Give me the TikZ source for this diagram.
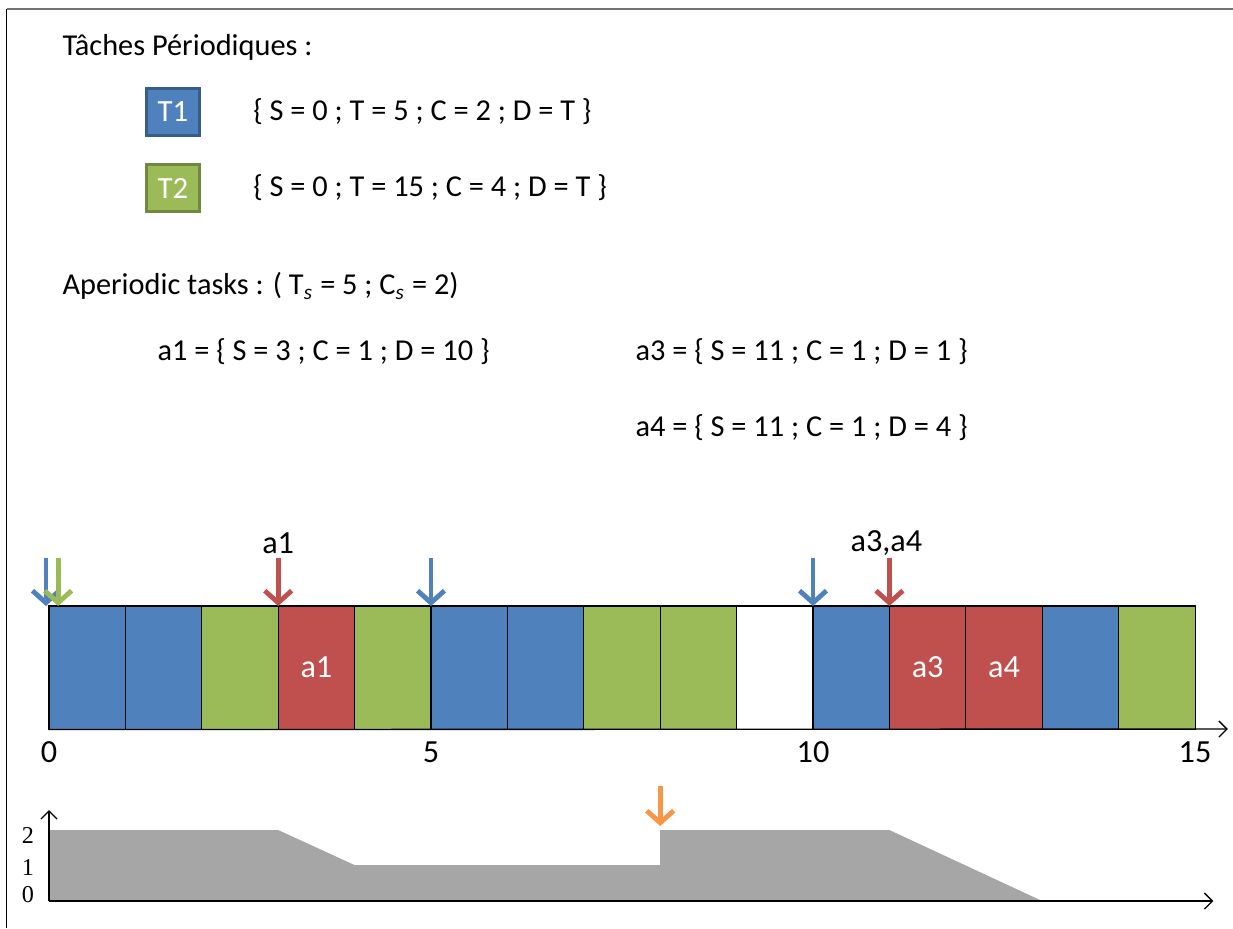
\documentclass[tikz,border=0pt]{standalone}
\usepackage{fontspec}
\setmainfont{Carlito}
\newfontfamily\numfont{Liberation Serif}
\usetikzlibrary{arrows.meta,positioning}

\definecolor{tblue}{HTML}{4F81BD}
\definecolor{tblueb}{HTML}{385D8A}
\definecolor{tgreen}{HTML}{9BBB59}
\definecolor{tgreenb}{HTML}{71893F}
\definecolor{tred}{HTML}{C0504D}
\definecolor{torange}{HTML}{F79646}
\definecolor{tgray}{HTML}{A6A6A6}

\tikzset{
  txt/.style={font=\fontsize{11.3}{13}\selectfont, anchor=west, inner sep=0pt},
  legendbox/.style={draw, line width=1.1pt, minimum width=0.69cm,
    minimum height=0.61cm, inner sep=0pt, text=white,
    font=\fontsize{11.5}{13}\selectfont},
  slot/.style={draw=black, line width=0.4pt, minimum width=1cm,
    minimum height=1.61cm, inner sep=0pt, text=white,
    font=\fontsize{12}{14}\selectfont},
  ticklab/.style={font=\fontsize{12}{14}\selectfont, inner sep=0pt},
  caplab/.style={font=\numfont\fontsize{9}{10}\selectfont, inner sep=0pt},
  release/.style={line width=1.8pt, -{Straight Barb[length=4.5pt,width=10pt]}},
  axis/.style={line width=0.5pt, -{Straight Barb[length=3pt,width=6pt]}},
}

\begin{document}
\begin{tikzpicture}
    \path[use as bounding box] (-0.641,-2.605) rectangle (15.497,9.542);

    % Frame
    \draw[black!55, line width=0.8pt] (-0.55,9.424) -- (15.497,9.424);
    \draw[black, line width=0.4pt] (-0.55,9.424) -- (-0.55,-2.605);

    % Periodic tasks
    \node[txt] (title) at (0.17,8.927) {Tâches Périodiques :};
    \node[legendbox, fill=tblue, draw=tblueb] (T1) at (1.623,8.076) {T1};
    \node[legendbox, fill=tgreen, draw=tgreenb] (T2) at (1.623,7.08) {T2};
    \node[txt, right=0.68cm of T1] (T1def)
        {\{ S = 0 ; T = 5 ; C = 2 ; D = T \}};
    \node[txt, right=0.68cm of T2] (T2def)
        {\{ S = 0 ; T = 15 ; C = 4 ; D = T \}};

    % Aperiodic tasks
    \node[txt] (aper) at (0.17,5.798)
        {Aperiodic tasks : ( T\textsubscript{\textit{s}} = 5 ; C\textsubscript{\textit{s}} = 2)};
    \node[txt] (a1def) at (1.414,4.935) {a1 = \{ S = 3 ; C = 1 ; D = 10 \}};
    \node[txt] (a3def) at (7.67,4.935) {a3 = \{ S = 11 ; C = 1 ; D = 1 \}};
    \node[txt] (a4def) at (7.67,3.94) {a4 = \{ S = 11 ; C = 1 ; D = 4 \}};

    % Schedule
    \foreach \i/\c/\t in {1/tblue/{},2/tblue/{},3/tgreen/{},4/tred/a1,
        5/tgreen/{},6/tblue/{},7/tblue/{},8/tgreen/{},9/tgreen/{},
        10/white/{},11/tblue/{},12/tred/a3,13/tred/a4,14/tblue/{},15/tgreen/{}}
    {
      \node[slot, fill=\c] (b\i) at (\i-0.5,0.805) {\t};
    }
    \coordinate (tend) at (15.43,0);
    \draw[axis] (b1.south west) -- (tend);
    \foreach \v in {0,5,10,15}
      \node[ticklab] (t\v) at (\v,-0.3) {\v};

    % Releases
    \node[ticklab] (la1) at (3,2.43) {a1};
    \node[ticklab] (la34) at (10.96,2.43) {a3,a4};
    \foreach \x/\c/\n in {-0.04/tblue/r1,0.12/tgreen/r2,3/tred/r3,
        5/tblue/r4,10/tblue/r5,11/tred/r6}
    {
      \coordinate (\n s) at (\x,2.24);
      \coordinate (\n e) at (\x,1.61);
      \draw[release, \c] (\n s) -- (\n e);
    }

    % Server capacity
    \coordinate (o) at (0,-2.251);
    \fill[tgray] (o) -- (0,-1.322) -- (3,-1.322) -- (4,-1.78) -- (8,-1.78)
        -- (8,-1.322) -- (11,-1.322) -- (13,-2.251) -- cycle;
    \coordinate (ytop) at (0,-1.06);
    \coordinate (xend) at (15.24,-2.251);
    \draw[axis] (o) -- (ytop);
    \draw[axis] (o) -- (xend);
    \foreach \v/\y in {2/-1.387,1/-1.806,0/-2.173}
      \node[caplab] (c\v) at (-0.275,\y) {\v};
    \coordinate (reps) at (8,-0.746);
    \coordinate (repe) at (8,-1.27);
    \draw[release, torange] (reps) -- (repe);
  \end{tikzpicture}
\end{document}
